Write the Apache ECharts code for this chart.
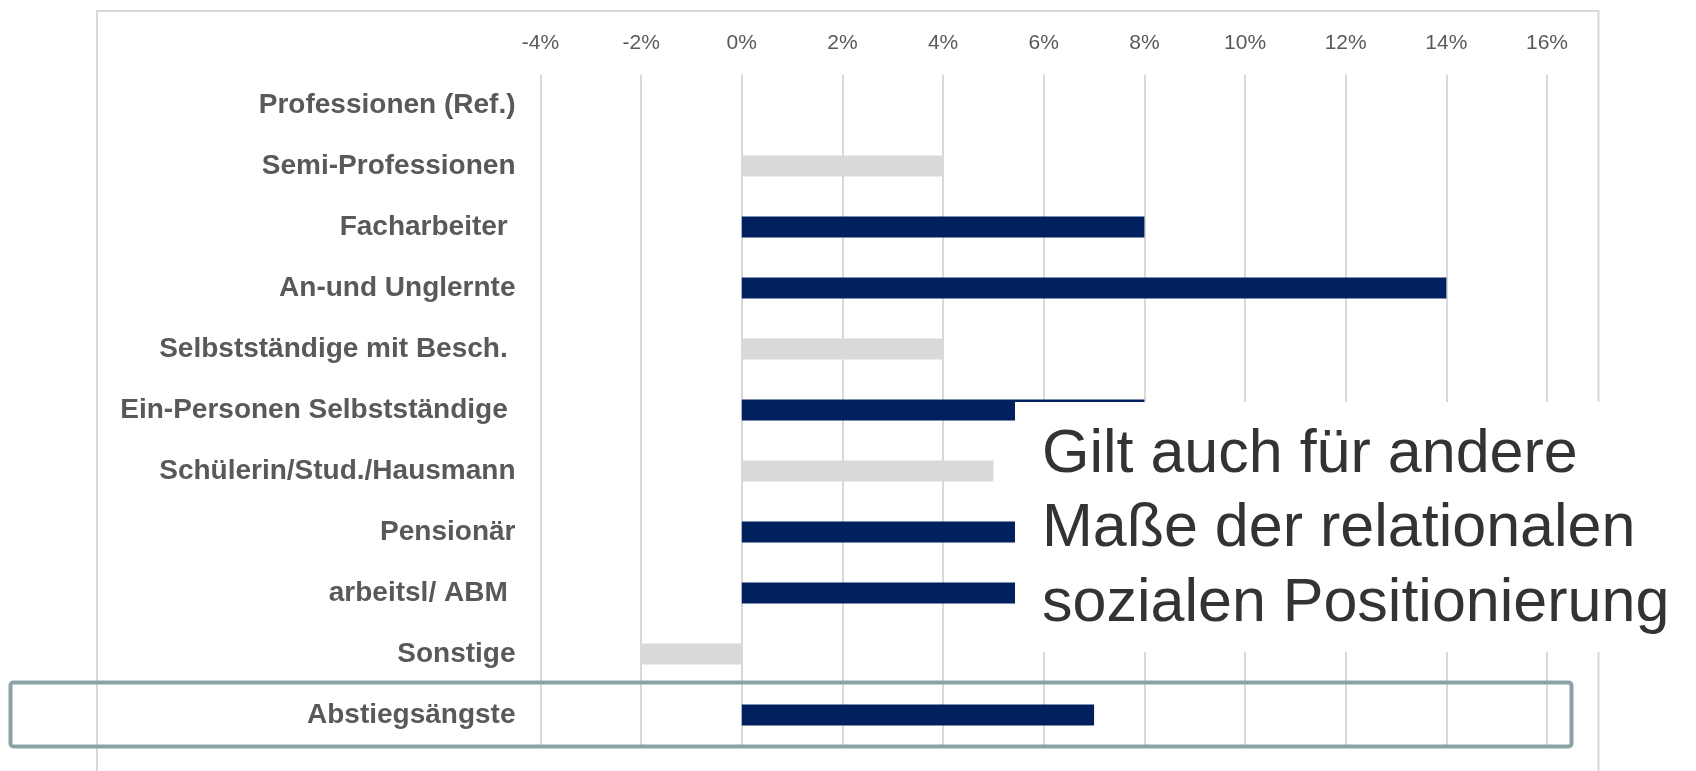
<!DOCTYPE html>
<html>
<head>
<meta charset="utf-8">
<script src="https://cdn.jsdelivr.net/npm/echarts@6/dist/echarts.min.js"></script>
<style>
  html, body { margin: 0; padding: 0; background: #ffffff; }
  #chart { width: 1696px; height: 771px; }
</style>
</head>
<body>
<div id="chart"></div>
<script>
// Occupational groups (reference category first), effects in percentage points
const categories = [
  'Professionen (Ref.)',
  'Semi-Professionen',
  'Facharbeiter ',
  'An-und Unglernte',
  'Selbstständige mit Besch. ',
  'Ein-Personen Selbstständige ',
  'Schülerin/Stud./Hausmann',
  'Pensionär',
  'arbeitsl/ ABM ',
  'Sonstige',
  'Abstiegsängste'
];
const effects = [0, 4, 8, 14, 4, 8, 5, 6, 6, -2, 7];
// true = significant effect (dark bar), false = not significant (light bar)
const significant = [false, false, true, true, false, true, false, true, true, false, true];

const axisMin = -4;
const axisMax = 16;
const axisStep = 2;

const calloutLines = [
  'Gilt auch für andere',
  'Maße der relationalen',
  'sozialen Positionierung'
];

const DARK = '#002060';
const LIGHT = '#d9d9d9';

const chart = echarts.init(document.getElementById('chart'), null, { renderer: 'canvas' });

const option = {
  backgroundColor: '#ffffff',
  animation: false,
  grid: { left: 540.5, right: 149, top: 74.5, bottom: 25.5, containLabel: false },
  xAxis: {
    type: 'value',
    position: 'top',
    min: axisMin,
    max: axisMax,
    interval: axisStep,
    axisLine: { show: false },
    axisTick: { show: false },
    axisLabel: {
      formatter: v => v + '%',
      color: '#595959',
      fontFamily: '"Liberation Sans", Arial, sans-serif',
      fontSize: 21,
      margin: 21
    },
    splitLine: { show: true, lineStyle: { color: '#d9d9d9', width: 2 } }
  },
  yAxis: {
    type: 'category',
    inverse: true,
    data: categories,
    axisLine: { show: false },
    axisTick: { show: false },
    splitLine: { show: false },
    axisLabel: {
      color: '#595959',
      fontFamily: '"Liberation Sans", Arial, sans-serif',
      fontWeight: 'bold',
      fontSize: 28,
      margin: 25
    }
  },
  series: [{
    type: 'bar',
    barWidth: 21,
    data: effects.map((v, i) => ({
      value: v,
      itemStyle: { color: significant[i] ? DARK : LIGHT }
    }))
  }],
  graphic: [
    // outer frame of the chart area
    {
      type: 'rect', z: 1, silent: true,
      shape: { x: 97, y: 11, width: 1501.5, height: 800 },
      style: { fill: null, stroke: '#d9d9d9', lineWidth: 2 }
    },
    // highlight around the last row
    {
      type: 'rect', z: 50, silent: true,
      shape: { x: 10.5, y: 682.5, width: 1561, height: 64, r: 3 },
      style: { fill: null, stroke: '#8ba3a5', lineWidth: 4 }
    },
    // callout box with note
    {
      type: 'group', z: 100,
      children: [
        {
          type: 'rect', z: 100, silent: true,
          shape: { x: 1015, y: 402, width: 700, height: 250 },
          style: { fill: '#ffffff', stroke: null }
        }
      ].concat(calloutLines.map((t, i) => ({
        type: 'text', z: 101, silent: true,
        style: {
          text: t,
          x: 1042,
          y: 455 + i * 74.5,
          fill: '#333333',
          font: 'normal 61px "Liberation Sans", Arial, sans-serif',
          textAlign: 'left',
          textVerticalAlign: 'middle'
        }
      })))
    }
  ]
};

chart.setOption(option);
</script>
</body>
</html>
